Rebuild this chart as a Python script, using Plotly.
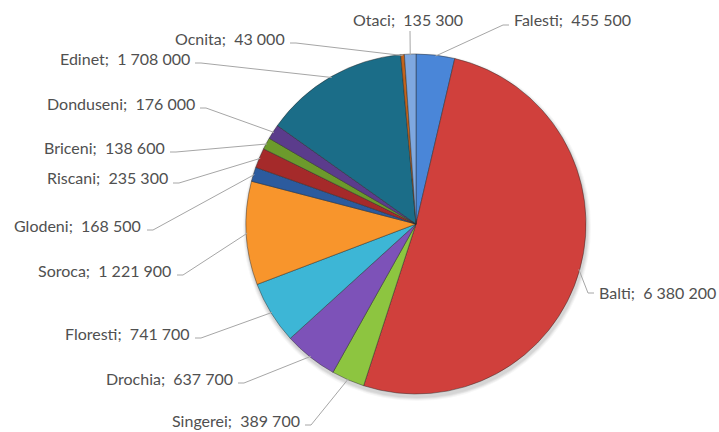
import math
import plotly.graph_objects as go

# ---- data ----
regions = ["Falesti", "Balti", "Singerei", "Drochia", "Floresti", "Soroca",
           "Glodeni", "Riscani", "Briceni", "Donduseni", "Edinet", "Ocnita", "Otaci"]
values = [455500, 6380200, 389700, 637700, 741700, 1221900,
          168500, 235300, 138600, 176000, 1708000, 43000, 135300]
colors = ["#4A86D8", "#D0403C", "#8DC540", "#7D52B8", "#3DB6D6", "#F8952C",
          "#2C5B9E", "#A52A2A", "#6C9A2C", "#5B3C8C", "#1B6D88", "#C3631A", "#7FA8E0"]

# ---- layout (pixels) ----
W, H = 719, 432
CX, CY, R = 416, 224, 170
# text anchor x, text centre y, anchor side, leader start x, leader start y
label_pos = {
    "Falesti":   (512, 20, "left", 509, 25),
    "Balti":     (597, 292, "left", 594, 293),
    "Singerei":  (302, 420, "right", 305, 425),
    "Drochia":   (235, 378, "right", 238, 383),
    "Floresti":  (192, 333, "right", 195, 338),
    "Soroca":    (173, 270, "right", 177, 275),
    "Glodeni":   (143, 225, "right", 147, 230),
    "Riscani":   (170, 178, "right", 173, 183),
    "Briceni":   (167, 147, "right", 170, 152),
    "Donduseni": (197, 103, "right", 200, 108),
    "Edinet":    (192, 58, "right", 195, 63),
    "Ocnita":    (287, 38, "right", 290, 43),
    "Otaci":     (408, 20, "center", 410, 31),
}


def px(x):
    return x / W


def py(y):
    return 1 - y / H


def fmt(v):
    return f"{v:,}".replace(",", "\u00a0")


fig = go.Figure(go.Pie(
    labels=regions, values=values, sort=False, direction="clockwise", rotation=0,
    marker=dict(colors=colors, line=dict(color="rgba(40,40,40,0.45)", width=1)),
    textinfo="none", hoverinfo="label+value", showlegend=False,
    domain=dict(x=[px(CX - R), px(CX + R)], y=[py(CY + R), py(CY - R)]),
))

shapes = []
# soft shadow
for i, a in enumerate([0.05, 0.05, 0.04, 0.03]):
    rr = R + 1 + i
    ox, oy = 1, 3
    shapes.append(dict(type="circle", xref="paper", yref="paper", layer="below",
                       x0=px(CX + ox - rr), x1=px(CX + ox + rr),
                       y0=py(CY + oy + rr), y1=py(CY + oy - rr),
                       fillcolor=f"rgba(0,0,0,{a})", line=dict(width=0)))

annotations = []
total = sum(values)
cum = 0
for name, v in zip(regions, values):
    mid = (cum + v / 2) / total
    cum += v
    th = 2 * math.pi * mid
    ex = CX + (R - 1) * math.sin(th)
    ey = CY - (R - 1) * math.cos(th)
    tx, ty, side, lx, ly = label_pos[name]
    if side == "right":
        sx = lx + 6
    elif side == "left":
        sx = lx - 6
    else:
        sx = lx
    path = f"M {px(lx)},{py(ly)} L {px(sx)},{py(ly)} L {px(ex)},{py(ey)}"
    shapes.append(dict(type="path", xref="paper", yref="paper", path=path,
                       line=dict(color="#A6A6A6", width=1)))
    annotations.append(dict(x=px(tx), y=py(ty), xref="paper", yref="paper",
                            text=f"{name};\u00a0\u00a0{fmt(v)}", showarrow=False,
                            xanchor=side, yanchor="middle",
                            font=dict(family="Lato", size=16, color="#505050")))

fig.update_layout(width=W, height=H, margin=dict(l=0, r=0, t=0, b=0),
                  paper_bgcolor="white", plot_bgcolor="white",
                  shapes=shapes, annotations=annotations)
fig.write_html("out.html", config={"displayModeBar": False},
               post_script="document.body.style.margin='0';"
                           "document.body.style.overflow='hidden';")
